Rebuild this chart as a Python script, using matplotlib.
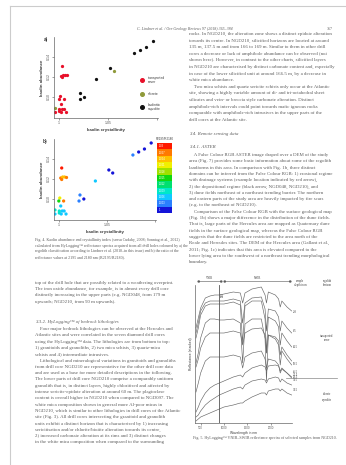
import numpy as np
import matplotlib
matplotlib.use("Agg")
import matplotlib.pyplot as plt
from matplotlib.colors import ListedColormap, BoundaryNorm
from matplotlib.lines import Line2D

W, H = 346, 465

# ---------------- data: Fig. 4 (kaolin crystallinity vs abundance) ----------------
cover_x = [1.003, 1.002, 1.004, 1.006, 1.008, 1.003, 1.001, 1.000, 1.005, 1.002,
           1.0005, 1.0035, 1.0055, 1.0005, 1.0025, 1.0075, 0.996]
cover_y = [0.131, 0.121, 0.122, 0.122, 0.1215, 0.1195, 0.101, 0.098, 0.098, 0.093,
           0.088, 0.088, 0.088, 0.086, 0.085, 0.085, 0.085]
cover_ratio = [1.030, 1.026, 1.025, 1.024, 1.027, 1.028, 1.021, 1.016, 1.027, 1.007,
               1.008, 1.007, 1.006, 1.009, 1.005, 1.006, 1.007]
silcrete_x = [1.056, 0.996]
silcrete_y = [0.126, 0.089]
silcrete_ratio = [1.001, 1.008]
sap_x = [1.096, 1.089, 1.083, 1.077, 1.052, 1.038, 1.022, 1.026, 1.021]
sap_y = [0.156, 0.150, 0.147, 0.144, 0.129, 0.118, 0.104, 0.100, 0.098]
sap_ratio = [1.000, 1.001, 1.001, 1.002, 1.001, 1.006, 1.004, 1.000, 1.003]

cb_labels = ["1", "1.003", "1.006", "1.009", "1.012", "1.015", "1.018",
             "1.021", "1.024", "1.027", "1.03"]
cb_colors = ["#1414d8", "#2a80ff", "#10c8ff", "#00e8c8", "#00e070", "#10d810",
             "#a0e000", "#f0f000", "#ffc000", "#ff7a00", "#ff1a00"]

# ---------------- data: Fig. 5 (HyLogging spectra, stacked) ----------------
wl = [400, 450, 500, 600, 700, 800, 900, 1000, 1200, 1350, 1400, 1450, 1600,
      1800, 1880, 1910, 1950, 2100, 2170, 2205, 2240, 2350, 2450]
spectra = {
    "2.8":  [95, 105, 115, 125, 127, 128, 128, 129, 131, 130, 120, 130, 134, 136, 128, 120, 131, 128, 124, 116, 122, 116, 112],
    "6.5":  [90, 100, 112, 120, 122, 122, 122, 122, 124, 122, 100, 120, 125, 126, 114, 92, 114, 112, 106, 92, 102, 95, 90],
    "14.5": [85, 95, 108, 117, 119, 119, 119, 119, 121, 118, 80, 117, 122, 122, 104, 70, 106, 102, 96, 78, 90, 82, 76],
    "19.5": [60, 70, 85, 100, 104, 104, 103, 103, 104, 100, 60, 99, 104, 104, 84, 42, 88, 84, 78, 58, 72, 64, 58],
    "26.5": [56, 64, 75, 86, 90, 90, 90, 90, 92, 90, 78, 90, 94, 95, 88, 70, 88, 86, 82, 68, 76, 68, 62],
    "27.5": [31, 40, 50, 62, 66, 66, 66, 66, 68, 66, 55, 66, 70, 72, 64, 55, 64, 62, 58, 50, 54, 50, 46],
    "29.5": [11, 16, 22, 30, 35, 38, 40, 42, 46, 48, 46, 50, 55, 58, 56, 52, 57, 58, 57, 52, 55, 50, 45],
    "31.5": [6, 8, 12, 18, 22, 25, 28, 30, 34, 36, 34, 38, 42, 44, 43, 40, 44, 46, 45, 41, 44, 40, 38],
    "39.5": [2, 4, 6, 8, 10, 12, 14, 16, 18, 20, 20, 22, 26, 30, 30, 28, 32, 34, 34, 32, 34, 30, 28],
}
label_y = {"2.8": 312, "6.5": 331, "14.5": 347, "19.5": 364, "26.5": 372,
           "27.5": 375, "29.5": 377.5, "31.5": 380, "39.5": 390}

# ---------------- page text ----------------
header = "C. Lindner et al. / Ore Geology Reviews 97 (2018) 365–384"
page_no = "367"

right_top = [
    "rocks. In NGD210, the alteration zone shows a distinct epidote alteration",
    "towards its centre. In NGD210, silicified horizons are located at around",
    "135 m, 137.5 m and from 166 to 169 m. Similar to them in other drill",
    "cores a decrease or lack of amphibole abundance can be observed (not",
    "shown here). However, in contrast to the other charts, silicified layers",
    "in NGD210 are characterised by distinct carbonate content and, especially",
    "in case of the lower silicified unit at around 166.5 m, by a decrease in",
    "white mica abundance.",
    "    Two mica schists and quartz sericite schists only occur at the Atlantic",
    "site, showing a highly variable amount of di- and tri-octahedral sheet",
    "silicates and vein- or breccia style carbonate alteration. Distinct",
    "amphibole-rich intervals could point towards mafic igneous rocks",
    "comparable with amphibole-rich intrusives in the upper parts of the",
    "drill cores at the Atlantic site.",
]
right_mid = [
    "    A False Colour RGB ASTER image draped over a DEM of the study",
    "area (Fig. 7) provides some basic information about some of the regolith",
    "landforms in this area. In comparison with Fig. 1b, three distinct",
    "domains can be inferred from the False Colour RGB: 1) erosional regime",
    "with drainage systems (example location indicated by red arrow),",
    "2) the depositional regime (black arrow, NGD048, NGD210), and",
    "3) dune fields northeast of a northeast trending barrier. The northern",
    "and eastern parts of the study area are heavily impacted by fire scars",
    "(e.g. to the northeast of NGD210).",
    "    Comparison of the False Colour RGB with the surface geological map",
    "(Fig. 1b) shows a major difference in the distribution of the dune fields.",
    "That is, large parts of the Hercules area are mapped as Quaternary dune",
    "fields in the surface geological map, whereas the False Colour RGB",
    "suggests that the dune fields are restricted to the area north of the",
    "Reale and Hercules sites. The DEM of the Hercules area (Gallant et al.,",
    "2011; Fig. 1c) indicates that this area is elevated compared to the",
    "lower lying area to the southwest of a northeast trending morphological",
    "boundary.",
]
left_top = [
    "top of the drill hole that are possibly related to a weathering overprint.",
    "The iron oxide abundance, for example, is in almost every drill core",
    "distinctly increasing in the upper parts (e.g. NGD048, from 179 m",
    "upwards; NGD210, from 90 m upwards).",
]
left_bottom = [
    "    Four major bedrock lithologies can be observed at the Hercules and",
    "Atlantic sites and were correlated in the seven diamond drill cores",
    "using the HyLogging™ data. The lithologies are from bottom to top:",
    "1) granitoids and granoliths, 2) two mica schists, 3) quartz-mica",
    "schists and 4) intermediate intrusives.",
    "    Lithological and mineralogical variations in granitoids and granoliths",
    "from drill core NGD210 are representative for the other drill core data",
    "and are used as a base for more detailed descriptions in the following.",
    "The lower parts of drill core NGD210 comprise a comparably uniform",
    "granolith that is, in distinct layers, highly chloritised and affected by",
    "intense sericite-epidote alteration at around 60 m. The plagioclase",
    "content is overall higher in NGD210 when compared to NGD097. The",
    "white mica composition shown in general more Al-poor micas in",
    "NGD210, which is similar to other lithologies in drill cores of the Atlantic",
    "site (Fig. 3). All drill cores intersecting the granitoid and granolith",
    "units exhibit a distinct horizon that is characterised by 1) increasing",
    "sericitisation and/or chlorite/biotite alteration towards its centre,",
    "2) increased carbonate alteration at its rims and 3) distinct changes",
    "in the white mica composition when compared to the surrounding",
]
cap4 = [
    "Fig. 4. Kaolin abundance and crystallinity index (sensu Cudahy, 2008; Sonntag et al., 2012)",
    "calculated from HyLogging™ reflectance spectra acquired from all drill holes coloured by a) the",
    "regolith classification according to Lindner et al. (2018–in this issue) and b) the ratio of the",
    "reflectance values at 2195 and 2180 nm (R2195/R2180).",
]
cap5 = "Fig. 5. HyLogging™ VNIR–SWIR reflectance spectra of selected samples from NGD210."

# ---------------- drawing ----------------
plt.rcParams["font.family"] = ["Liberation Sans", "DejaVu Sans"]
fig = plt.figure(figsize=(W / 100, H / 100), dpi=100)
fig.patch.set_facecolor("white")

TXT = "#5c5c5c"

def fx(x):
    return x / W

def fy(y):
    return 1 - y / H

def add_ax(x0, y0, x1, y1):
    return fig.add_axes([x0 / W, 1 - y1 / H, (x1 - x0) / W, (y1 - y0) / H])

def txt(x, y, s, size=3.5, **kw):
    kw.setdefault("family", ["Liberation Serif", "DejaVu Serif"])
    kw.setdefault("color", TXT)
    kw.setdefault("va", "center")
    fig.text(fx(x), fy(y), s, fontsize=size, **kw)

def block(x, y0, lines, step=6.5, size=3.5, **kw):
    for i, s in enumerate(lines):
        txt(x, y0 + i * step, s, size=size, **kw)

# page frame
fig.add_artist(Line2D([fx(10), fx(346)], [fy(6), fy(6)], color="#cccccc", lw=0.8))
fig.add_artist(Line2D([fx(10), fx(10)], [fy(6), fy(465)], color="#cccccc", lw=0.8))

txt(185, 29, header, size=2.9, style="italic", ha="center")
txt(330, 29, page_no, size=2.9, ha="center")

block(189, 34, right_top, step=6.6)
txt(189, 134, "3.4. Remote sensing data", style="italic")
txt(189, 147, "3.4.1. ASTER", style="italic")
block(189, 155, right_mid, step=6.3)

block(35, 283, left_top, step=6.2)
txt(35, 322, "3.3.2. HyLogging™ of bedrock lithologies", style="italic")
block(35, 329, left_bottom, step=6.3)
block(35, 240, cap4, step=5.6, size=2.9)
txt(265, 438, cap5, size=2.9, ha="center")

# ---- Fig 4 a/b ----
def style_scatter_ax(ax):
    ax.set_xlim(0.995, 1.101)
    ax.set_ylim(0.079, 0.160)
    for s in ["top", "right"]:
        ax.spines[s].set_visible(False)
    for s in ["left", "bottom"]:
        ax.spines[s].set_linewidth(0.5)
        ax.spines[s].set_color("#666666")
    ax.set_xticks([1.0, 1.05, 1.10])
    ax.set_xticklabels(["1", "1.05", ""])
    ax.set_yticks([0.10, 0.12, 0.14])
    ax.set_yticklabels(["0.10", "0.12", "0.14"], rotation=90, va="center")
    ax.tick_params(length=1.5, width=0.4, pad=1, labelsize=2.5, colors="#555555")
    ax.set_xlabel("kaolin crystallinity", fontsize=3.2, fontweight="bold", labelpad=1.5, color="#3a3a3a")
    ax.set_ylabel("kaolin abundance", fontsize=3.2, fontweight="bold", labelpad=2, color="#3a3a3a")
    ax.patch.set_alpha(0)

ms = 5.5
axa = add_ax(54, 37, 158, 118)
style_scatter_ax(axa)
axa.scatter(cover_x, cover_y, s=ms, color="#e8102a", lw=0)
axa.scatter(silcrete_x, silcrete_y, s=ms, color="#8f9a3a", lw=0)
axa.scatter(sap_x, sap_y, s=ms, color="#111111", lw=0)
txt(44, 39, "a)", size=3.4, family=["Liberation Sans"], fontweight="bold", color="#333333")

leg_items = [("transported\ncover", "#e8102a", 80), ("silcrete", "#8f9a3a", 94), ("kaolinitic\nsaprolite", "#111111", 107)]
for lab, col, yy in leg_items:
    fig.add_artist(Line2D([fx(142)], [fy(yy)], marker="o", ms=2.6, color=col, lw=0))
    txt(148, yy, lab, size=2.4, family=["Liberation Sans"], color="#3a3a3a", linespacing=1.0)

cmap = ListedColormap(cb_colors)
bounds = np.arange(len(cb_colors) + 1) * 0.003 + 1.0 - 0.0015
norm = BoundaryNorm(bounds, cmap.N)

axb = add_ax(54, 139, 156, 220)
style_scatter_ax(axb)
axb.scatter(cover_x + silcrete_x + sap_x, cover_y + silcrete_y + sap_y,
            c=cover_ratio + silcrete_ratio + sap_ratio, cmap=cmap, norm=norm, s=ms, lw=0)
txt(43, 141, "b)", size=3.4, family=["Liberation Sans"], fontweight="bold", color="#333333")

axc = add_ax(157, 143, 172, 213)
axc.imshow(np.arange(len(cb_colors))[:, None], cmap=cmap, aspect="auto", origin="lower",
           extent=[0, 1, 0, len(cb_colors)])
axc.set_xticks([])
axc.set_yticks([])
for s in axc.spines.values():
    s.set_visible(False)
for i, lab in enumerate(cb_labels):
    axc.text(0.12, i + 0.5, lab, fontsize=1.9, color="white", va="center", ha="left")
txt(165, 139, "R2195/R2180", size=2.1, family=["Liberation Sans"], ha="center", color="#3a3a3a")

# ---- Fig 5 spectra ----
axs = add_ax(195, 285, 292, 423)
for name, vals in spectra.items():
    axs.plot(wl, vals, color="#666666", lw=0.45)
axs.set_xlim(379, 2457)
axs.set_ylim(0, 138)
axs.axvline(900, color="#555555", lw=0.6)
axs.text(930, 128, "900", rotation=90, fontsize=2.0, va="center", color="#3a3a3a")
for s in ["top", "right"]:
    axs.spines[s].set_visible(False)
for s in ["left", "bottom"]:
    axs.spines[s].set_linewidth(0.5)
    axs.spines[s].set_color("#666666")
axs.set_yticks([])
axs.set_xticks([500, 1000, 1500, 2000])
axs.tick_params(length=1.2, width=0.4, pad=0.8, labelsize=2.0, colors="#555555")
axs.set_xlabel("Wavelength in nm", fontsize=2.4, labelpad=1, color="#3a3a3a")
axs.set_ylabel("Reflectance (stacked)", fontsize=2.4, labelpad=1.5, color="#3a3a3a")
axs.patch.set_alpha(0)

for name, yy in label_y.items():
    txt(293, yy, name, size=2.1, family=["Liberation Serif"], color="#3a3a3a")

fig.add_artist(Line2D([fx(286), fx(337)], [fy(378), fy(378)], color="#888888", lw=0.5))
fig.add_artist(Line2D([fx(198), fx(221)], [fy(281), fy(281)], color="#555555", lw=0.4))
fig.add_artist(Line2D([fx(224), fx(290)], [fy(281), fy(281)], color="#555555", lw=0.4))
for x, m in [(198, "<"), (221, ">"), (224, "<"), (290, ">")]:
    fig.add_artist(Line2D([fx(x)], [fy(281)], marker=m, ms=1.0, color="#555555", lw=0))
txt(210, 278, "VNIR", size=2.1, ha="center", color="#3a3a3a")
txt(257, 278, "SWIR", size=2.1, ha="center", color="#3a3a3a")
txt(300, 283, "sample\ndepth in m", size=2.1, ha="center", color="#3a3a3a", linespacing=1.0)
txt(327, 283, "regolith\nhorizon", size=2.1, ha="center", color="#3a3a3a", linespacing=1.0)
txt(327, 338, "transported\ncover", size=2.1, ha="center", color="#3a3a3a", linespacing=1.0)
txt(327, 397, "silcrete\nsaprolite", size=2.1, ha="center", color="#3a3a3a", linespacing=1.8)

fig.savefig("out.png", dpi=100, facecolor="white")
